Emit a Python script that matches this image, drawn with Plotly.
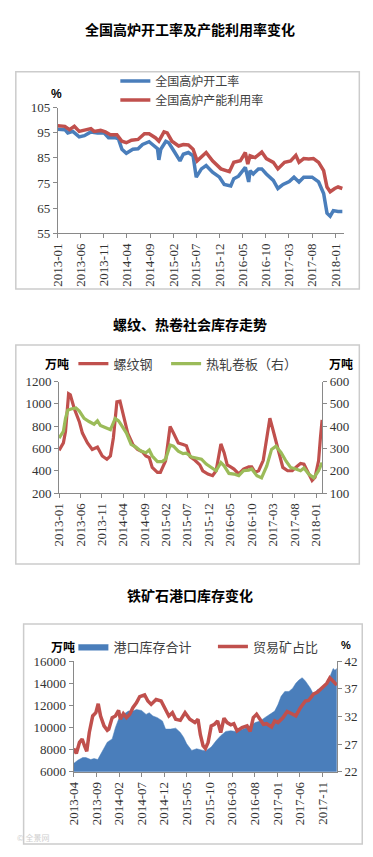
import plotly.graph_objects as go

W, H = 373, 857

# ---------------- Chart 1: 全国高炉开工率及产能利用率 ----------------
c1_rate_dates = ["2013-01-01","2013-02-17","2013-03-08","2013-04-10","2013-05-22","2013-06-25","2013-08-07","2013-09-19",
                 "2013-11-01","2013-12-01","2014-01-13","2014-02-04","2014-02-27","2014-03-28","2014-05-10","2014-06-13",
                 "2014-07-13","2014-08-25","2014-09-16","2014-10-19","2014-10-28","2014-11-10","2014-12-13","2015-01-01",
                 "2015-02-04","2015-03-16","2015-04-07","2015-05-10","2015-06-10","2015-07-01","2015-08-04","2015-09-04",
                 "2015-10-16","2015-12-01","2016-01-01","2016-02-13","2016-03-04","2016-04-04","2016-05-19","2016-06-10",
                 "2016-06-19","2016-07-10","2016-08-13","2016-09-04","2016-10-04","2016-11-19","2016-12-19","2017-01-22",
                 "2017-03-04","2017-04-04","2017-05-07","2017-06-07","2017-08-01","2017-09-13","2017-10-16","2017-11-07",
                 "2017-11-28","2017-12-19","2018-01-19","2018-02-16"]
c1_rate = [96.4,96.2,94.9,95.5,93.3,93.8,95.3,94.9,94.9,93.0,93.0,92.5,88.4,86.8,88.4,88.6,
           90.3,91.4,90.3,88.6,84.2,88.4,91.6,91.0,87.7,83.8,86.4,87.1,85.8,77.3,80.6,81.9,
           79.3,77.3,74.4,73.8,76.7,77.7,81.2,75.4,79.9,78.6,80.6,80.6,78.6,76.0,72.8,74.4,
           75.6,77.3,75.4,77.3,77.3,75.4,70.8,63.0,61.8,64.0,63.7,63.7]

c1_util_dates = ["2013-01-01","2013-02-17","2013-03-19","2013-04-20","2013-05-22","2013-06-25","2013-08-07","2013-08-28",
                 "2013-10-10","2013-11-10","2013-12-13","2014-01-25","2014-02-27","2014-03-28","2014-05-01","2014-06-13",
                 "2014-07-25","2014-08-25","2014-10-07","2014-10-28","2014-12-01","2014-12-22","2015-01-22","2015-03-07",
                 "2015-04-07","2015-05-10","2015-06-10","2015-07-07","2015-08-04","2015-09-04","2015-10-16","2015-12-10",
                 "2016-02-04","2016-03-04","2016-04-16","2016-05-19","2016-06-04","2016-06-19","2016-07-22","2016-09-04",
                 "2016-10-04","2016-11-19","2016-12-19","2017-02-01","2017-03-13","2017-04-16","2017-05-07","2017-06-07",
                 "2017-07-10","2017-08-10","2017-09-13","2017-10-16","2017-11-07","2017-11-28","2017-12-28","2018-01-19",
                 "2018-02-16"]
c1_util = [97.7,97.5,96.2,97.5,95.5,95.9,96.6,95.5,95.9,95.3,94.2,94.2,91.6,91.0,92.0,92.3,
           94.6,94.6,92.9,91.6,95.3,94.9,91.6,89.7,90.3,90.1,88.4,83.8,85.5,87.1,83.8,80.6,
           79.5,83.2,83.8,87.1,82.5,85.8,85.1,87.3,84.7,83.2,80.6,83.2,83.8,86.0,83.2,84.7,
           84.5,84.7,83.2,79.9,73.4,71.5,72.8,73.4,72.8]

# ---------------- Chart 2: 螺纹、热卷社会库存 ----------------
c2_rebar_dates = ["2013-01-01","2013-02-01","2013-02-16","2013-03-10","2013-03-22","2013-04-19","2013-05-25","2013-06-16",
                  "2013-07-22","2013-08-25","2013-10-01","2013-11-04","2013-12-07","2014-01-01","2014-01-22","2014-02-16",
                  "2014-03-10","2014-04-01","2014-05-04","2014-06-10","2014-07-13","2014-08-16","2014-09-10","2014-10-04",
                  "2014-10-25","2014-12-01","2014-12-22","2015-01-28","2015-02-19","2015-03-01","2015-03-25","2015-04-28",
                  "2015-06-01","2015-06-25","2015-07-22","2015-08-25","2015-09-28","2015-10-19","2015-11-25","2015-12-28",
                  "2016-01-22","2016-02-13","2016-02-25","2016-03-19","2016-04-10","2016-05-04","2016-05-28","2016-07-01",
                  "2016-08-04","2016-09-10","2016-10-01","2016-10-25","2016-11-19","2016-12-22","2017-01-16","2017-02-07",
                  "2017-03-01","2017-04-04","2017-05-10","2017-06-13","2017-07-16","2017-08-22","2017-09-13","2017-10-07",
                  "2017-11-10","2017-12-04","2017-12-25","2018-01-19","2018-02-01","2018-02-13"]
c2_rebar = [583,650,753,1091,1082,959,841,738,650,591,612,533,503,533,694,1018,
            1024,900,738,635,591,571,533,518,430,386,386,489,694,797,738,650,
            635,625,525,494,453,400,371,356,400,577,641,562,453,435,415,371,
            415,435,435,386,400,494,694,871,768,591,430,400,400,444,465,459,
            371,312,341,489,694,856]

c2_hrc_dates = ["2013-01-01","2013-02-01","2013-02-16","2013-03-04","2013-03-28","2013-05-01","2013-05-25","2013-06-28",
                "2013-08-02","2013-09-07","2013-10-01","2013-10-22","2013-11-25","2014-01-01","2014-02-04","2014-02-28",
                "2014-03-19","2014-04-25","2014-05-28","2014-07-01","2014-08-07","2014-09-10","2014-10-04","2014-10-25",
                "2014-12-01","2015-01-04","2015-01-28","2015-03-01","2015-03-25","2015-04-28","2015-06-01","2015-06-25",
                "2015-08-01","2015-09-04","2015-10-10","2015-11-13","2015-12-28","2016-01-22","2016-02-25","2016-03-19",
                "2016-04-22","2016-05-28","2016-07-01","2016-08-04","2016-09-10","2016-10-01","2016-11-07","2016-12-10",
                "2017-01-16","2017-02-19","2017-03-22","2017-04-28","2017-06-01","2017-07-04","2017-08-10","2017-09-13",
                "2017-10-07","2017-11-10","2017-12-16","2018-01-19","2018-02-13"]
c2_hrc = [347,377,435,472,477,482,468,435,421,409,424,403,394,384,435,424,
          406,369,318,306,288,281,293,266,241,241,252,315,310,288,277,279,
          262,256,252,230,208,200,237,222,188,185,178,200,203,208,178,168,
          222,296,310,281,244,215,208,200,212,185,168,200,237]

# ---------------- Chart 3: 铁矿石港口库存 ----------------
c3_stock_dates = ["2013-04-01","2013-04-29","2013-06-01","2013-06-22","2013-07-25","2013-08-16","2013-09-10","2013-10-01",
                  "2013-10-22","2013-11-13","2013-12-16","2014-01-07","2014-01-28","2014-03-01","2014-04-04","2014-05-04",
                  "2014-05-28","2014-07-01","2014-08-01","2014-08-22","2014-09-16","2014-10-16","2014-11-19","2014-12-10",
                  "2015-01-13","2015-02-16","2015-03-19","2015-04-10","2015-05-01","2015-06-04","2015-07-07","2015-08-19",
                  "2015-09-10","2015-10-13","2015-11-16","2015-12-16","2016-01-19","2016-02-22","2016-03-25","2016-04-28",
                  "2016-05-28","2016-07-01","2016-08-04","2016-09-07","2016-10-07","2016-11-10","2016-12-13","2017-01-04",
                  "2017-01-25","2017-02-19","2017-03-19","2017-04-13","2017-05-04","2017-05-25","2017-06-16","2017-07-07",
                  "2017-08-10","2017-09-01","2017-09-25","2017-10-25","2017-11-28","2017-12-19","2018-01-10","2018-01-22",
                  "2018-02-04"]
c3_stock = [6743,7040,7277,7277,7100,7188,7100,7633,8226,8672,8968,10007,10748,11193,11490,11490,
            11638,11550,11193,11342,11045,10897,10600,9858,9858,9947,9561,9116,8523,7930,8078,7930,
            7930,8226,8820,9265,9650,9710,9650,9769,9947,10155,10452,10600,10897,11193,11490,12084,
            12826,13271,13271,13567,14012,14309,14516,14220,13567,12974,13419,13567,13864,14605,15347,15199,
            15347]

c3_share_dates = ["2013-04-01","2013-04-19","2013-05-10","2013-05-28","2013-06-13","2013-06-28","2013-07-15","2013-08-07",
                  "2013-08-28","2013-09-13","2013-09-29","2013-10-22","2013-11-13","2013-11-23","2013-12-16","2014-01-07",
                  "2014-01-28","2014-02-09","2014-03-01","2014-03-22","2014-04-13","2014-05-04","2014-05-28","2014-06-19",
                  "2014-07-22","2014-08-13","2014-09-04","2014-10-07","2014-11-10","2014-12-10","2015-01-01","2015-01-25",
                  "2015-02-16","2015-03-19","2015-04-20","2015-05-22","2015-06-25","2015-07-16","2015-08-01","2015-08-19",
                  "2015-09-04","2015-09-22","2015-10-13","2015-11-04","2015-11-25","2015-12-16","2016-01-07","2016-01-28",
                  "2016-02-22","2016-03-13","2016-04-04","2016-05-07","2016-06-10","2016-07-01","2016-07-22","2016-08-13",
                  "2016-09-07","2016-09-28","2016-10-19","2016-11-22","2016-12-13","2017-01-04","2017-02-07","2017-03-07",
                  "2017-04-13","2017-05-04","2017-06-04","2017-07-07","2017-07-28","2017-09-01","2017-09-25","2017-10-25",
                  "2017-11-28","2017-12-19","2018-01-10","2018-02-04"]
c3_share = [26.2,25.3,27.3,27.9,26.7,25.7,29.1,32.1,32.7,34.3,32.1,30.3,29.5,29.7,31.8,32.1,
            33.1,31.5,32.5,31.8,32.4,33.6,34.5,35.6,35.9,34.8,34.2,35.1,34.8,33.3,32.1,32.7,
            31.5,31.3,32.7,31.5,30.9,31.5,28.7,26.7,26.2,27.3,30.3,30.6,31.2,29.1,31.7,30.9,
            30.5,30.7,29.4,30.0,30.3,29.3,31.8,32.4,31.5,30.6,30.7,30.1,31.2,30.9,31.8,32.9,
            32.4,32.1,33.6,34.8,34.9,36.1,36.4,37.1,38.0,39.0,38.3,37.7]

BLUE = "#4a7ebb"
RED = "#c0504d"
GREEN = "#9bbb59"
SERIF = "Liberation Serif"
CJK = "Noto Sans CJK SC"
TICKC = "#333333"
AXC = "#898989"


def fx(px):
    return px / W


def fy(py):
    return 1 - py / H


fig = go.Figure()

fig.add_trace(go.Scatter(x=c1_rate_dates, y=c1_rate, name="全国高炉开工率", mode="lines",
                         line=dict(color=BLUE, width=3.5), xaxis="x", yaxis="y", legend="legend"))
fig.add_trace(go.Scatter(x=c1_util_dates, y=c1_util, name="全国高炉产能利用率", mode="lines",
                         line=dict(color=RED, width=3.5), xaxis="x", yaxis="y", legend="legend"))

fig.add_trace(go.Scatter(x=c2_rebar_dates, y=c2_rebar, name="螺纹钢", mode="lines",
                         line=dict(color=RED, width=3.2), xaxis="x2", yaxis="y2", legend="legend3"))
fig.add_trace(go.Scatter(x=c2_hrc_dates, y=c2_hrc, name="热轧卷板（右）", mode="lines",
                         line=dict(color=GREEN, width=3.2), xaxis="x2", yaxis="y3", legend="legend4"))

fig.add_trace(go.Scatter(x=c3_stock_dates, y=c3_stock, name="港口库存合计", mode="lines", fill="tozeroy",
                         fillcolor=BLUE, line=dict(color=BLUE, width=0.5), xaxis="x3", yaxis="y4", legend="legend5"))
fig.add_trace(go.Scatter(x=c3_share_dates, y=c3_share, name="贸易矿占比", mode="lines",
                         line=dict(color=RED, width=3.5), xaxis="x3", yaxis="y5", legend="legend6"))

tickfont = dict(family=SERIF, size=13, color=TICKC)
common_x = dict(type="date", dtick="M5", tickformat="%Y-%m", tickangle=-90, ticks="outside", ticklen=4,
                tickcolor=AXC, showline=True, linecolor=AXC, linewidth=1, showgrid=False, zeroline=False,
                tickfont=tickfont, fixedrange=True)
common_y = dict(ticks="outside", ticklen=4, tickcolor=AXC, showline=True, linecolor=AXC, linewidth=1,
                showgrid=False, zeroline=False, tickfont=tickfont, fixedrange=True, tickformat="d")


def leg(px, py, size=13):
    return dict(x=fx(px), y=fy(py), xanchor="left", yanchor="middle", bgcolor="rgba(0,0,0,0)",
                borderwidth=0, font=dict(family=CJK, size=size, color="#404040"), itemwidth=30,
                tracegroupgap=0, orientation="v")


annotations = []
for txt, py in [("全国高炉开工率及产能利用率变化", 22.5), ("螺纹、热卷社会库存走势", 322.5), ("铁矿石港口库存变化", 598)]:
    annotations.append(dict(text="<b>" + txt + "</b>", x=0.5, y=fy(py), xref="paper", yref="paper",
                            showarrow=False, xanchor="center", yanchor="middle",
                            font=dict(family=CJK, size=14, color="#000000")))
for txt, px, py, fam, sz in [("%", 50, 89, "Liberation Sans", 12), ("万吨", 50, 363, CJK, 12),
                             ("万吨", 341, 363, CJK, 12), ("万吨", 56, 651, CJK, 12),
                             ("%", 346, 649, "Liberation Sans", 11)]:
    annotations.append(dict(text="<b>" + txt + "</b>", x=fx(px), y=fy(py), xref="paper", yref="paper",
                            showarrow=False, xanchor="center", yanchor="middle",
                            font=dict(family=fam, size=sz, color="#000000")))
annotations.append(dict(text="© 全景网", x=fx(7), y=fy(845), xref="paper", yref="paper", showarrow=False,
                        xanchor="left", yanchor="middle", font=dict(family=CJK, size=8, color="#cfcfcf")))

shapes = []
for x0, y0, x1, y1 in [(8, 66, 360, 287), (8, 344, 360, 567), (16, 628, 363, 852)]:
    shapes.append(dict(type="rect", xref="paper", yref="paper", x0=fx(x0), x1=fx(x1), y0=fy(y1), y1=fy(y0),
                       line=dict(color="#cccccc", width=1.5), layer="below"))

fig.update_layout(
    width=W, height=H, margin=dict(l=0, r=0, t=0, b=0),
    paper_bgcolor="white", plot_bgcolor="rgba(0,0,0,0)",
    xaxis=dict(common_x, domain=[fx(51), fx(344)], range=["2013-01-01", "2018-02-25"], tick0="2013-01-01",
               anchor="y"),
    yaxis=dict(common_y, domain=[fy(230.3), fy(102.3)], range=[55, 105], tick0=55, dtick=10, anchor="x"),
    xaxis2=dict(common_x, domain=[fx(52.3), fx(322)], range=["2013-01-01", "2018-02-14"], tick0="2013-01-01",
                anchor="y2"),
    yaxis2=dict(common_y, domain=[fy(494.7), fy(381.3)], range=[200, 1200], tick0=200, dtick=200, anchor="x2"),
    yaxis3=dict(common_y, range=[100, 600], tick0=100, dtick=100, anchor="x2", overlaying="y2", side="right"),
    xaxis3=dict(common_x, domain=[fx(67.3), fx(337)], range=["2013-04-01", "2018-02-04"], tick0="2013-04-01",
                anchor="y4"),
    yaxis4=dict(common_y, domain=[fy(778.3), fy(666)], range=[6000, 16000], tick0=6000, dtick=2000,
                anchor="x3"),
    yaxis5=dict(common_y, range=[22, 42], tick0=22, dtick=5, anchor="x3", overlaying="y4", side="right"),
    legend=leg(110, 85, 12),
    legend3=leg(67, 363),
    legend4=leg(162, 363),
    legend5=leg(67, 651),
    legend6=leg(210, 651),
    annotations=annotations,
    shapes=shapes,
    showlegend=True,
)

fig.write_html("out.html", config={"displayModeBar": False, "staticPlot": False},
               post_script="document.body.style.margin='0';document.body.style.overflow='hidden';")
